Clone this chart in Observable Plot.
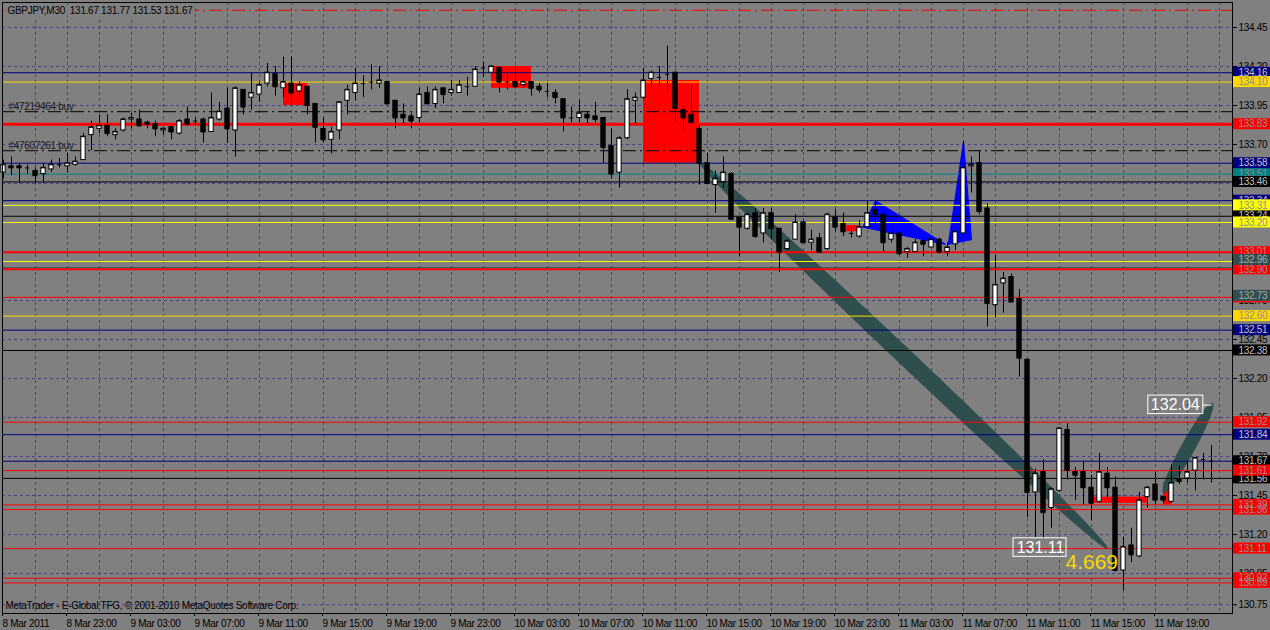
<!DOCTYPE html>
<html><head><meta charset="utf-8">
<script src="https://cdn.jsdelivr.net/npm/d3@7"></script>
<script src="https://cdn.jsdelivr.net/npm/@observablehq/plot@0.6"></script>
<style>
html,body{margin:0;padding:0;background:#808080;overflow:hidden;}
#chart svg text{letter-spacing:-0.3px;}
#chart svg .big text{letter-spacing:0;}
</style></head><body><div id="chart"></div>
<script>
// ---- candle data (GBPJPY M30, bar index 0 = 8 Mar 2011 19:00) ----
const open = [133.52,133.56,133.56,133.55,133.53,133.51,133.54,133.57,133.56,133.57,
133.60,133.76,133.80,133.82,133.76,133.79,133.86,133.86,133.84,133.83,
133.79,133.81,133.77,133.86,133.85,133.86,133.78,133.86,133.93,133.79,
134.05,134.00,134.02,134.09,134.15,134.06,134.09,134.04,134.07,133.96,
133.80,133.73,133.79,133.98,134.03,134.09,134.10,134.09,134.10,133.98,
133.89,133.88,133.87,134.03,133.96,134.06,134.03,134.03,134.07,134.07,
134.19,134.16,134.19,134.10,134.10,134.08,134.10,134.07,134.04,134.03,
133.99,133.87,133.87,133.89,133.88,133.87,133.69,133.52,133.74,133.98,
134.00,134.12,134.13,134.15,134.16,133.92,133.89,133.80,133.58,133.44,
133.46,133.51,133.23,133.16,133.26,133.13,133.26,133.16,133.03,133.09,
133.20,133.07,133.10,133.03,133.23,133.19,133.13,133.11,133.17,133.28,
133.25,133.09,133.13,133.01,133.01,133.08,133.04,133.09,133.01,133.06,
133.13,133.56,133.58,133.29,132.67,132.81,132.85,132.71,132.32,131.47,
131.60,131.37,131.48,131.87,131.60,131.60,131.50,131.41,131.59,131.50,
130.97,131.13,131.06,131.44,131.52,131.44,131.41,131.55,131.56,131.61,
131.68,131.67];
const high = [133.60,133.62,133.58,133.57,133.55,133.58,133.60,133.61,133.64,133.62,
133.77,133.85,133.89,133.89,133.80,133.87,133.90,133.92,133.85,133.85,
133.81,133.82,133.86,133.94,133.87,133.87,134.03,133.97,134.06,134.07,
134.05,134.16,134.10,134.22,134.20,134.26,134.26,134.10,134.07,133.96,
133.87,133.81,133.97,134.08,134.19,134.14,134.21,134.20,134.10,133.98,
133.96,133.90,134.06,134.07,134.07,134.06,134.11,134.11,134.13,134.20,
134.23,134.20,134.20,134.14,134.20,134.11,134.10,134.09,134.09,134.05,
133.99,133.94,133.98,133.91,133.97,133.87,133.80,133.75,134.05,134.03,
134.19,134.17,134.20,134.33,134.16,133.95,134.08,133.82,133.64,133.53,
133.62,133.52,133.23,133.26,133.29,133.29,133.29,133.16,133.09,133.25,
133.21,133.15,133.13,133.26,133.28,133.26,133.17,133.21,133.34,133.33,
133.26,133.17,133.13,133.04,133.09,133.10,133.10,133.10,133.07,133.14,
133.72,133.62,133.66,133.32,132.99,132.88,132.87,132.77,132.32,131.62,
131.68,131.50,131.88,131.91,131.63,131.67,131.58,131.72,131.63,131.57,
131.18,131.24,131.47,131.51,131.60,131.44,131.65,131.64,131.67,131.69,
131.72,131.77];
const low = [133.48,133.50,133.45,133.51,133.45,133.45,133.52,133.55,133.52,133.56,
133.60,133.66,133.77,133.75,133.73,133.78,133.80,133.81,133.80,133.75,
133.76,133.73,133.76,133.82,133.82,133.71,133.78,133.85,133.71,133.62,
133.89,133.92,133.97,134.07,134.01,134.00,133.96,134.00,133.89,133.71,
133.71,133.64,133.73,133.89,133.98,134.00,134.05,134.06,133.96,133.80,
133.83,133.80,133.84,133.96,133.93,133.96,134.01,134.03,134.01,134.07,
134.13,134.16,134.03,134.05,134.06,134.06,134.01,134.03,134.00,133.96,
133.78,133.84,133.84,133.83,133.84,133.58,133.48,133.42,133.73,133.83,
133.99,134.05,134.07,134.03,133.84,133.78,133.84,133.44,133.45,133.26,
133.42,133.22,132.98,133.15,133.10,133.07,133.09,132.88,133.02,133.09,
133.07,133.02,133.01,133.02,133.14,133.11,133.10,133.10,133.16,133.18,
133.01,133.07,132.99,132.97,133.01,132.98,133.04,133.00,132.98,133.02,
133.11,133.39,133.25,132.53,132.59,132.62,132.69,132.21,131.31,131.18,
131.17,131.24,131.47,131.55,131.42,131.39,131.29,131.40,131.42,130.96,
130.84,131.02,131.05,131.37,131.39,131.40,131.40,131.52,131.53,131.48,
131.55,131.53];
const close = [133.57,133.55,133.55,133.55,133.50,133.55,133.57,133.57,133.58,133.59,
133.75,133.81,133.82,133.77,133.78,133.86,133.87,133.82,133.83,133.80,
133.80,133.78,133.85,133.83,133.85,133.78,133.87,133.91,133.80,134.06,
133.94,134.03,134.08,134.16,134.07,134.10,134.03,134.08,133.95,133.81,
133.73,133.78,133.97,134.05,134.09,134.09,134.10,134.11,133.96,133.87,
133.87,133.85,134.02,133.96,134.05,134.02,134.05,134.08,134.07,134.18,
134.19,134.20,134.10,134.10,134.07,134.10,134.06,134.05,134.04,134.00,
133.87,133.87,133.90,133.87,133.86,133.68,133.51,133.74,133.99,134.00,
134.11,134.16,134.13,134.15,133.93,133.87,133.84,133.58,133.45,133.48,
133.52,133.22,133.17,133.25,133.11,133.26,133.16,133.01,133.08,133.20,
133.07,133.09,133.01,133.25,133.17,133.14,133.13,133.17,133.26,133.25,
133.07,133.13,133.00,133.03,133.07,133.06,133.09,133.01,133.04,133.14,
133.55,133.57,133.27,132.68,132.80,132.84,132.69,132.33,131.47,131.59,
131.34,131.49,131.88,131.61,131.58,131.50,131.40,131.60,131.50,130.97,
131.12,131.07,131.42,131.50,131.42,131.42,131.53,131.54,131.60,131.69,
131.68,131.67];

// ---- axes ----
const timeTickIndex = [0,8,16,24,32,40,48,56,64,72,80,88,96,104,112,120,128,136,144];
const timeTickLabels = ["8 Mar 2011","8 Mar 23:00","9 Mar 03:00","9 Mar 07:00","9 Mar 11:00","9 Mar 15:00","9 Mar 19:00","9 Mar 23:00","10 Mar 03:00","10 Mar 07:00","10 Mar 11:00","10 Mar 15:00","10 Mar 19:00","10 Mar 23:00","11 Mar 03:00","11 Mar 07:00","11 Mar 11:00","11 Mar 15:00","11 Mar 19:00"];
const priceTicks = [134.45,134.20,133.95,133.70,133.45,133.20,132.95,132.70,132.45,132.20,131.95,131.70,131.45,131.20,130.95,130.75];

// ---- horizontal levels ----
const redTopLevels = [134.56];
const orderLevels = [133.91, 133.66];
const orderLabels = ["#47219464 buy", "#47607261 buy"];
const redThickLevels = [133.83];
const redMedLevels = [133.01, 132.90];
const redThinLevels = [132.72, 131.92, 131.61, 131.39, 131.36, 131.11, 130.92, 130.89];
const navyLevels = [134.16, 133.58, 133.34, 132.51, 131.84, 131.67];
const goldLevels = [134.10, 132.60];
const yellowLevels = [133.31, 133.20, 132.95];
const tealLevels = [133.51];
const blackLevels = [133.46, 133.24, 132.38, 131.56];
const slateLevels = [132.91];

// ---- right-axis price labels ----
const tealLabels = [133.51];
const navyLabels = [134.16, 133.58, 133.34, 132.51, 131.84];
const blackLabels = [133.46, 133.24, 132.38, 131.67, 131.56];
const redLabels = [133.83, 133.01, 132.90, 132.72, 131.92, 131.61, 131.36, 131.39, 131.11, 130.89, 130.92];
const goldLabels = [134.10, 132.60];
const slateLabels = [132.96, 132.73];
const yellowLabels = [133.31, 133.20];

// ---- objects ----
const boxStart = [35, 61, 80, 105.4, 136.25, 145];
const boxEnd   = [38, 66, 87, 106.9, 143, 146];
const boxTop   = [134.09, 134.20, 134.11, 133.18, 131.44, 131.53];
const boxBottom= [133.95, 134.06, 133.58, 133.14, 131.40, 131.39];

const ellStartIdx = [87.1, 145.0];
const ellStartPrice = [133.58, 131.47];
const ellEndIdx = [138.0, 151.1];
const ellEndPrice = [131.11, 132.04];

const triIdx = [[107.4, 109.0, 117.75], [118.1, 120.0, 121.0]];
const triPrice = [[133.17, 133.34, 133.06], [133.06, 133.72, 133.09]];

const bigLabelText = ["131.11", "132.04"];
const bigLabelIdx = [126.25, 143.1];
const bigLabelPrice = [131.115, 132.03];
const ratioText = ["4.669"];
const ratioIdx = [132.75];
const ratioPrice = [131.02];

const titleText = "GBPJPY,M30  131.67 131.77 131.53 131.67";
const copyrightText = "MetaTrader - E-Global TFG, \u00a9 2001-2010 MetaQuotes Software Corp.";

// ---- layout ----
const W = 1270, H = 630, ML = 2, MR = 38, MT = 2, MB = 17;
const xDomain = [-0.125, 153.625];
const yDomain = [130.694, 134.610];
const PX = (xDomain[1]-xDomain[0])/(W-ML-MR); // index units per pixel
const PY = (yDomain[1]-yDomain[0])/(H-MT-MB); // price units per pixel

const xs = Plot.scale({x: {domain: xDomain, range: [ML, W - MR]}});
const ys = Plot.scale({y: {domain: yDomain, range: [H - MB, MT]}});

const bars = open.map((o, i) => ({i, o, h: high[i], l: low[i], c: close[i], up: close[i] >= open[i]}));
const boxes = boxStart.map((s, k) => ({x1: s, x2: boxEnd[k], y1: boxBottom[k], y2: boxTop[k]}));

const ellWidthPx = [16, 13];
const ellPts = [];
ellStartIdx.forEach((_, k) => {
  const x1 = xs.apply(ellStartIdx[k]), y1 = ys.apply(ellStartPrice[k]);
  const x2 = xs.apply(ellEndIdx[k]), y2 = ys.apply(ellEndPrice[k]);
  const cx = (x1+x2)/2, cy = (y1+y2)/2, a = Math.hypot(x2-x1, y2-y1)/2, b = ellWidthPx[k]/2;
  const th = Math.atan2(y2-y1, x2-x1);
  for (let j = 0; j <= 90; j++) {
    const t = j/90*2*Math.PI;
    const px = cx + a*Math.cos(t)*Math.cos(th) - b*Math.sin(t)*Math.sin(th);
    const py = cy + a*Math.cos(t)*Math.sin(th) + b*Math.sin(t)*Math.cos(th);
    ellPts.push({k, x: xs.invert(px), y: ys.invert(py)});
  }
});
const triPts = [];
triIdx.forEach((arr, k) => { arr.forEach((x, j) => triPts.push({k, x, y: triPrice[k][j]})); triPts.push({k, x: arr[0], y: triPrice[k][0]}); });

const labelMap = new Map(timeTickIndex.map((d, i) => [d, timeTickLabels[i]]));
const gridXIdx = d3.range(4, 153, 4);

const hl = (levels, stroke, strokeWidth, extra = {}) =>
  Plot.ruleY(levels, {stroke, strokeWidth, ...extra});

const X1 = xDomain[1] + 1*PX, X2 = xDomain[1] + 40*PX;
const labelMarks = (levels, bg, fg) => [
  Plot.rect(levels, {x1: X1, x2: X2, y1: d => d - 5.5*PY, y2: d => d + 5.5*PY, fill: bg}),
  Plot.text(levels, {x: xDomain[1] + 6*PX, y: d => d, text: d => d.toFixed(2), fill: fg, textAnchor: "start", fontSize: 10})
];

const bigLabels = bigLabelText.map((t, k) => ({t, x: bigLabelIdx[k], y: bigLabelPrice[k]}));

const dashDot = "13,4,2,4";
const chart = Plot.plot({
  width: W, height: H,
  marginLeft: ML, marginRight: MR, marginTop: MT, marginBottom: MB,
  x: {domain: xDomain, axis: null},
  y: {domain: yDomain, axis: null},
  style: {background: "#808080", color: "black", fontFamily: "'Liberation Sans', Arial, sans-serif", fontSize: "10px", overflow: "visible"},
  marks: [
    Plot.gridY(priceTicks, {stroke: "#483d8b", strokeOpacity: 1, strokeDasharray: "3,3"}),
    Plot.gridX(gridXIdx, {stroke: "#483d8b", strokeOpacity: 1, strokeDasharray: "3,3"}),
    Plot.rect(boxes, {x1: "x1", x2: "x2", y1: "y1", y2: "y2", fill: "#ff0000"}),
    Plot.line(ellPts, {x: "x", y: "y", z: "k", fill: "#2f4f4f", stroke: "#2f4f4f", strokeWidth: 1}),
    Plot.line(triPts, {x: "x", y: "y", z: "k", fill: "#0000ff", stroke: "#0000ff", strokeWidth: 1}),
    hl(redTopLevels, "#ff0000", 1, {strokeDasharray: dashDot}),
    hl(orderLevels, "#000000", 1, {strokeDasharray: dashDot}),
    hl(navyLevels, "#000080", 1),
    hl(goldLevels, "#ffd700", 1),
    hl(yellowLevels, "#ffff00", 1),
    hl(tealLevels, "#008080", 1),
    hl(blackLevels, "#000000", 1),
    hl(slateLevels, "#2f4f4f", 1),
    hl(redThinLevels, "#ff0000", 1),
    hl(redMedLevels, "#ff0000", 2),
    hl(redThickLevels, "#ff0000", 3),
    Plot.ruleX(bars, {x: "i", y1: "l", y2: "h", stroke: "black", strokeWidth: 1}),
    Plot.rect(bars, {x1: d => d.i - 0.27, x2: d => d.i + 0.27, y1: "o", y2: "c", fill: d => d.up ? "white" : "black", stroke: "black", strokeWidth: 1}),
    Plot.ruleY(bars, {x1: d => d.i - 0.27, x2: d => d.i + 0.27, y: "c", stroke: "black"}),
    Plot.text([titleText], {frameAnchor: "top-left", dx: 5, dy: 8, lineAnchor: "middle", textAnchor: "start", fill: "black", stroke: "#808080", strokeWidth: 7, fontSize: 10}),
    Plot.text(orderLabels, {frameAnchor: "left", y: (d, i) => orderLevels[i], dx: 6, dy: -2, lineAnchor: "bottom", textAnchor: "start", fill: "#1a1a1a", fontSize: 10}),
    Plot.text([copyrightText], {frameAnchor: "bottom-left", dx: 3, dy: -8, lineAnchor: "middle", textAnchor: "start", fill: "black", fontSize: 10}),
    Plot.ruleY([bigLabelPrice[1]], {x1: bigLabelIdx[1] + 55*PX, x2: ellEndIdx[1], stroke: "white"}),
    Plot.rect(bigLabels, {x1: "x", x2: d => d.x + (d.t === "131.11" ? 53 : 55)*PX, y1: d => d.y - 9*PY, y2: d => d.y + 9.5*PY, fill: "none", stroke: "white"}),
    Plot.text(bigLabels, {x: d => d.x + 27*PX, y: "y", text: "t", fill: "white", fontSize: 16, className: "big"}),
    Plot.text(ratioText, {x: (d, i) => ratioIdx[i], y: (d, i) => ratioPrice[i], text: d => d, fill: "#ffd700", fontSize: 21, textAnchor: "start", className: "big"}),
    Plot.frame({stroke: "black"}),
    Plot.axisY(priceTicks, {anchor: "right", tickSize: 4, tickPadding: 2, tickFormat: d => d.toFixed(2), fontSize: 10, stroke: "black"}),
    Plot.axisX(timeTickIndex, {anchor: "bottom", tickSize: 3, tickPadding: 3, tickFormat: d => labelMap.get(d), textAnchor: "start", dx: -1, fontSize: 10, stroke: "black"}),
    ...labelMarks(tealLabels, "#008080", "#909090"),
    ...labelMarks(navyLabels, "#000080", "#c0c0c0"),
    ...labelMarks(blackLabels, "#000000", "#c0c0c0"),
    ...labelMarks(redLabels, "#ff0000", "#909090"),
    ...labelMarks(goldLabels, "#ffd700", "#909090"),
    ...labelMarks(slateLabels, "#2f4f4f", "#a8a8a8"),
    ...labelMarks(yellowLabels, "#ffff00", "#909090")
  ]
});
document.getElementById("chart").appendChild(chart);
</script></body></html>
